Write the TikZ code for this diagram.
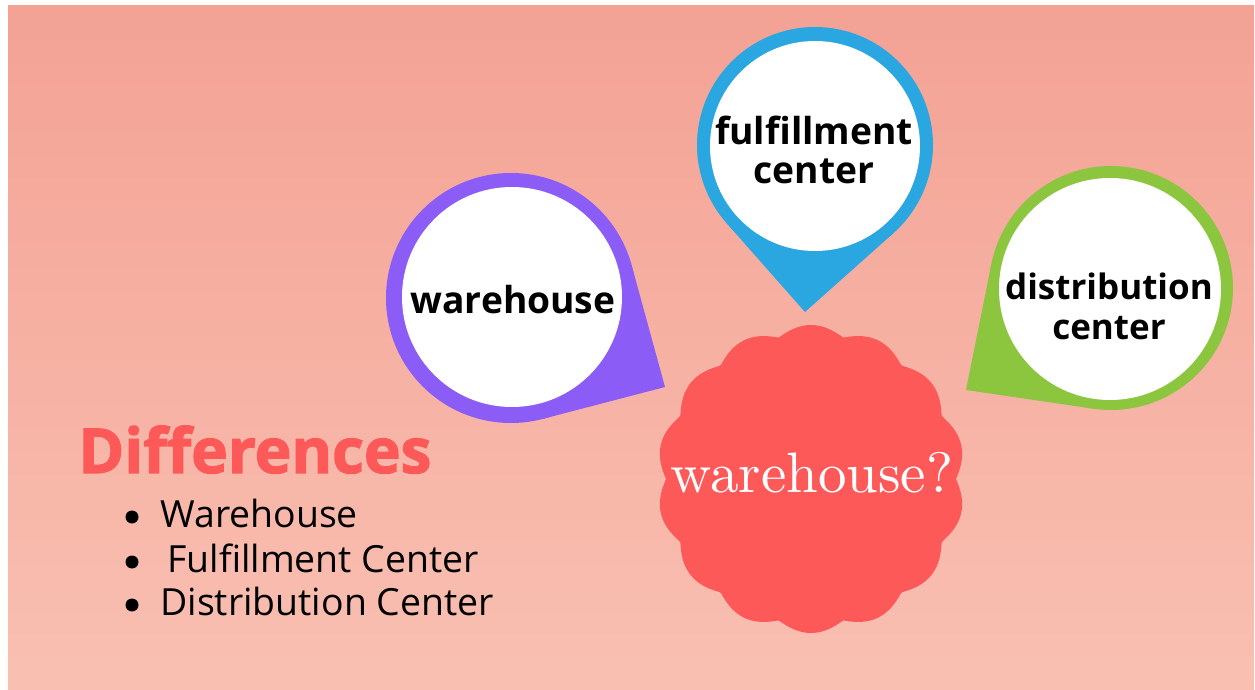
\documentclass[tikz,border=0pt]{standalone}
\usepackage{fontspec}
\newfontfamily\pinfont{Open Sans}
\newfontfamily\heavyfont{Open Sans}[BoldFeatures={FakeBold=2}]
\newfontfamily\badgefont{lmroman10-regular.otf}
\usepackage{tikz}
\usetikzlibrary{calc}
\definecolor{bgtop}{HTML}{F3A294}
\definecolor{bgmid}{HTML}{F4A596}
\definecolor{bgbot}{HTML}{F9C0B2}
\definecolor{pinpurple}{HTML}{8B5CF6}
\definecolor{pinblue}{HTML}{2AA7E1}
\definecolor{pingreen}{HTML}{8CC63F}
\definecolor{badgered}{HTML}{FE5959}

\begin{document}
\begin{tikzpicture}[x=0.5pt,y=-0.5pt,
    pinring/.style={circle,inner sep=0pt,outer sep=0pt},
    pindisc/.style={circle,fill=white,inner sep=0pt,outer sep=0pt},
    pintext/.style={font=\pinfont\bfseries\fontsize{18.6}{19.5}\selectfont,align=center,text=black},
    listitem/.style={anchor=base west,inner sep=0pt,font=\pinfont\fontsize{18.7}{20}\selectfont,text=black}]
    \useasboundingbox (0,0) rectangle (1255,690);
    \fill[white] (0,0) rectangle (1255,690);
    \shade[top color=bgtop, middle color=bgmid, bottom color=bgbot] (8,6) rectangle (1254,690);
    % warehouse pin
    \node[pinring,fill=pinpurple,minimum size=125pt] (whRing) at (511,298) {};
    \coordinate (whTip) at (665,387);
    \fill[pinpurple] (whTip) -- (tangent cs:node=whRing,point={(whTip)},solution=1) -- (whRing.center)
        -- (tangent cs:node=whRing,point={(whTip)},solution=2) -- cycle;
    \node[pindisc,minimum size=110pt] (whDisc) at (512,297) {};
    \node[pintext] (whText) at (513,300) {warehouse};
    % fulfillment pin
    \node[pinring,fill=pinblue,minimum size=118pt] (ffRing) at (815,145) {};
    \coordinate (ffTip) at (805,312);
    \fill[pinblue] (ffTip) -- (tangent cs:node=ffRing,point={(ffTip)},solution=1) -- (ffRing.center)
        -- (tangent cs:node=ffRing,point={(ffTip)},solution=2) -- cycle;
    \node[pindisc,minimum size=105pt] (ffDisc) at (815,146) {};
    \node[pintext] (ffText) at (814,150) {fulfillment\\center};
    % distribution pin
    \node[pinring,fill=pingreen,minimum size=122pt] (dcRing) at (1111,288) {};
    \coordinate (dcTip) at (966,390);
    \fill[pingreen] (dcTip) -- (tangent cs:node=dcRing,point={(dcTip)},solution=1) -- (dcRing.center)
        -- (tangent cs:node=dcRing,point={(dcTip)},solution=2) -- cycle;
    \node[pindisc,minimum size=111pt] (dcDisc) at (1110,289) {};
    \node[pintext,font=\pinfont\bfseries\fontsize{17.5}{20}\selectfont] (dcText) at (1109,306) {distribution\\center};
    % badge
    \fill[badgered,shift={(811,479)}] plot[domain=0:360,samples=361] (\x:{145+9*abs(sin(7*\x))}) -- cycle;
    \node[anchor=base,font=\badgefont\fontsize{28.5}{30}\selectfont,text=white] (askText) at (812,492) {warehouse?};
    % list
    \node[anchor=base west,inner sep=0pt,font=\heavyfont\bfseries\fontsize{31}{33}\selectfont,text=badgered] (diffTitle) at (78,473) {Differences};
    \node[listitem] (itemA) at (160,527) {Warehouse};
    \node[listitem] (itemB) at (167,572) {Fulfillment Center};
    \node[listitem] (itemC) at (160,615) {Distribution Center};
    \fill ($(itemA.base west)+(-28,-10)$) circle[radius=6.5];
    \fill ($(itemB.base west)+(-35,-10)$) circle[radius=6.5];
    \fill ($(itemC.base west)+(-28,-10)$) circle[radius=6.5];
\end{tikzpicture}
\end{document}
